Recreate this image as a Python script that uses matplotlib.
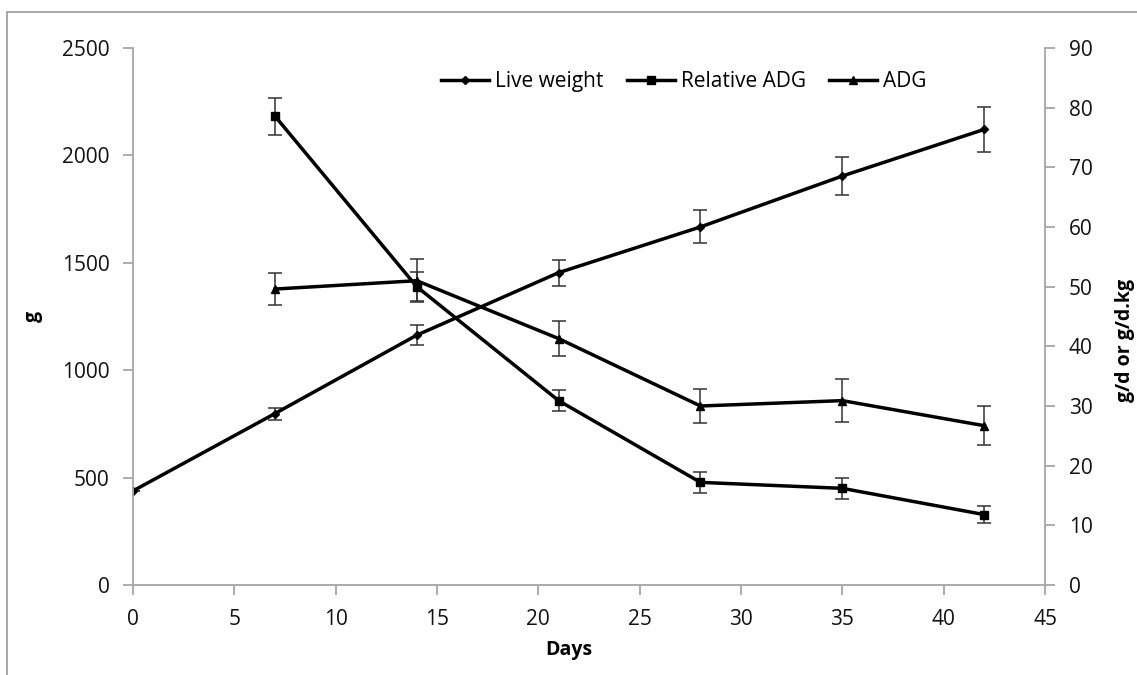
import numpy as np
import matplotlib.pyplot as plt
from matplotlib.lines import Line2D
from matplotlib.patches import Rectangle

plt.rcParams['font.family'] = ['Open Sans', 'DejaVu Sans']

# data
days = [0, 7, 14, 21, 28, 35, 42]
live_weight = [438, 798, 1163, 1454, 1667, 1904, 2121]
live_weight_err = [0, 28, 47, 60, 77, 89, 103]

days_gain = [7, 14, 21, 28, 35, 42]
rel_adg = [78.6, 50.0, 30.9, 17.2, 16.2, 11.8]
rel_adg_err = [3.1, 2.4, 1.7, 1.75, 1.8, 1.4]
adg = [49.6, 51.0, 41.3, 30.0, 30.9, 26.7]
adg_err = [2.7, 3.6, 2.9, 2.9, 3.6, 3.25]

spine_col = '#a6a6a6'
err_col = '#333333'

fig = plt.figure(figsize=(11.37, 6.75), dpi=100)
# outer frame of the original picture
fig.patches.append(Rectangle((7/1137, -0.1), 1.2, 1 - 12/675 + 0.1,
                             transform=fig.transFigure, fill=False,
                             edgecolor='#9a9a9a', linewidth=1.2))

ax = fig.add_axes([133/1137, 1 - 585/675, (1045 - 133)/1137, (585 - 48)/675])
ax2 = ax.twinx()

ax.errorbar(days, live_weight, yerr=live_weight_err, color='black', marker='D',
            ms=4, lw=2.5, ecolor=err_col, elinewidth=1.1, capsize=5, capthick=1.1)
ax2.errorbar(days_gain, rel_adg, yerr=rel_adg_err, color='black', marker='s',
             ms=6, lw=2.5, ecolor=err_col, elinewidth=1.1, capsize=5, capthick=1.1)
ax2.errorbar(days_gain, adg, yerr=adg_err, color='black', marker='^',
             ms=6, lw=2.5, ecolor=err_col, elinewidth=1.1, capsize=5, capthick=1.1)

ax.set_xlim(0, 45)
ax.set_ylim(0, 2500)
ax2.set_ylim(0, 90)
ax.set_xticks(np.arange(0, 46, 5))
ax.set_yticks(np.arange(0, 2501, 500))
ax2.set_yticks(np.arange(0, 91, 10))

for a in (ax, ax2):
    a.spines['top'].set_visible(False)
    for s in ('left', 'right', 'bottom'):
        a.spines[s].set_color(spine_col)
        a.spines[s].set_linewidth(1.3)
    a.tick_params(axis='both', direction='out', length=7, width=1.3,
                  color=spine_col, labelsize=15, pad=10, labelcolor='#111111')
ax.spines['right'].set_visible(False)
ax2.spines['left'].set_visible(False)
ax2.spines['bottom'].set_visible(False)

ax.set_xlabel('Days', fontsize=14, fontweight='bold')
ax.set_ylabel('g', fontsize=14, fontweight='bold')
ax2.set_ylabel('g/d or g/d.kg', fontsize=14, fontweight='bold')
ax.xaxis.set_label_coords(0.478, -0.102)
ax.yaxis.set_label_coords(-0.099, 0.5)
ax2.yaxis.set_label_coords(1.077, 0.456)

handles = [
    Line2D([], [], color='black', lw=2.5, marker='D', ms=4),
    Line2D([], [], color='black', lw=2.5, marker='s', ms=6),
    Line2D([], [], color='black', lw=2.5, marker='^', ms=6),
]
ax2.legend(handles, ['Live weight', 'Relative ADG', 'ADG'], loc='center',
           bbox_to_anchor=(0.604, 0.937), ncol=3, frameon=False, fontsize=15,
           handlelength=2.3, handletextpad=0.3, columnspacing=1.1)

fig.savefig('out.png', dpi=100)
